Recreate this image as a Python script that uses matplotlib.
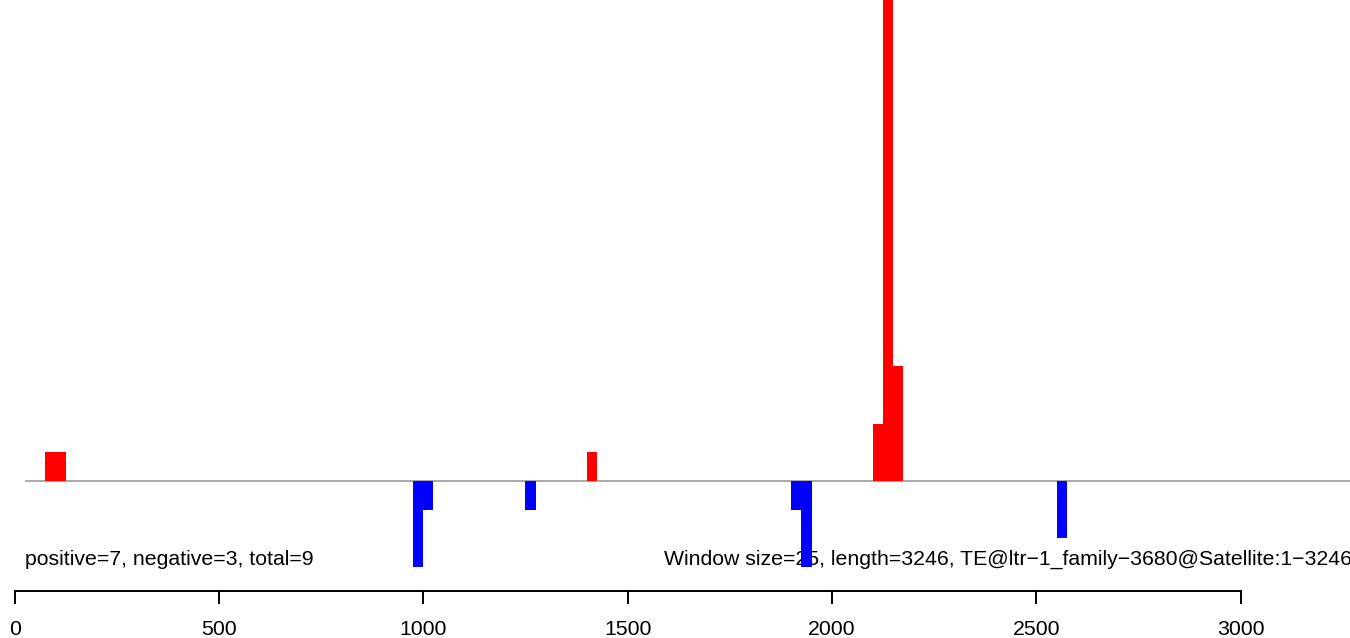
import matplotlib
matplotlib.use("Agg")
import matplotlib.pyplot as plt

plt.rcParams['font.family'] = ['Liberation Sans', 'DejaVu Sans']

window = 25
pos_starts = [75, 100, 1400, 2100, 2125, 2150]
pos_counts = [1, 1, 1, 2, 20, 4]
neg_starts = [975, 1000, 1250, 1900, 1925, 2550]
neg_counts = [3, 1, 1, 1, 3, 2]
xticks = [0, 500, 1000, 1500, 2000, 2500, 3000]
left_label = "positive=7, negative=3, total=9"
right_label = "Window size=25, length=3246, TE@ltr\u22121_family\u22123680@Satellite:1\u22123246"

W, H = 1350, 638
fig = plt.figure(figsize=(W / 100, H / 100), dpi=100)
ax = fig.add_axes([0, 0, 1, 1])

px_per_unit = 1226 / 3000.0
x0 = -14.6 / px_per_unit
x1 = (W - 14.6) / px_per_unit
unit_px = 28.7
base_px = 481
ytop = base_px / unit_px
ybot = -(H - base_px) / unit_px
ax.set_xlim(x0, x1)
ax.set_ylim(ybot, ytop)

ax.bar(pos_starts, pos_counts, width=window, align='edge', color='#FF0000', linewidth=0, zorder=2)
ax.bar(neg_starts, [-c for c in neg_counts], width=window, align='edge', color='#0000FF', linewidth=0, zorder=2)
ax.axhline(0, xmin=(27 - x0) / (x1 - x0), xmax=1, color='#999999', linewidth=1.2, zorder=0)

for s in ['top', 'right', 'left']:
    ax.spines[s].set_visible(False)
axis_y = -(591 - base_px) / unit_px
ax.spines['bottom'].set_position(('data', axis_y))
ax.spines['bottom'].set_bounds(0, 3000)
ax.spines['bottom'].set_linewidth(1.4)
ax.set_xticks(xticks)
ax.set_xticklabels([str(t) for t in xticks], fontsize=15.3)
ax.tick_params(axis='x', direction='out', length=9, width=1.4, pad=12)
ax.set_yticks([])

ty = -(565 - base_px) / unit_px
ax.text((25 - 14.6) / px_per_unit, ty, left_label, fontsize=15.3, ha='left', va='baseline', zorder=1)
ax.text((664 - 14.6) / px_per_unit, ty, right_label, fontsize=15.3, ha='left', va='baseline', zorder=1)

fig.savefig("out.png", dpi=100)
